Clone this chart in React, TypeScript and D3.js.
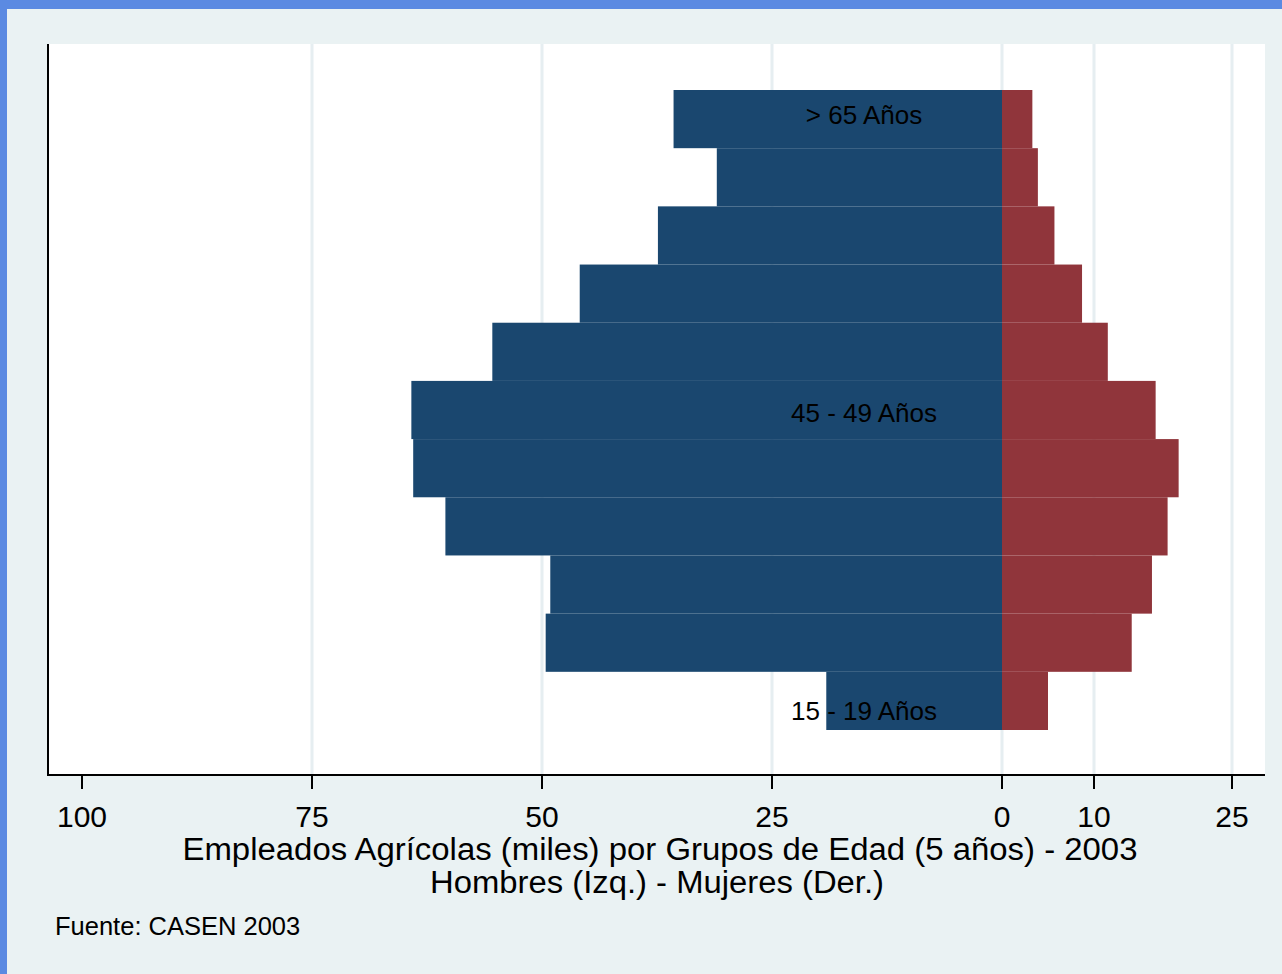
import * as d3 from "d3";

// age groups, top to bottom
const groups = [
  "> 65",
  "60 - 64",
  "55 - 59",
  "50 - 54",
  "45 - 49",
  "40 - 44",
  "35 - 39",
  "30 - 34",
  "25 - 29",
  "20 - 24",
  "15 - 19",
];

// thousands of workers
const hombres = [35.7, 31.0, 37.4, 45.9, 55.4, 64.2, 64.0, 60.5, 49.1, 49.6, 19.1];
const mujeres = [3.3, 3.9, 5.7, 8.7, 11.5, 16.7, 19.2, 18.0, 16.3, 14.1, 5.0];

// signed tick values (men negative)
const ticks = [-100, -75, -50, -25, 0, 10, 25];
const gridValues = [-75, -50, -25, 0, 10, 25];

// in-plot text labels: text and age position on the vertical axis
const labelTexts = ["> 65 Años", "45 - 49 Años", "15 - 19 Años"];
const labelAges = [67.9, 42.3, 16.7];
const labelValue = -15;

const titleLines = [
  "Empleados Agrícolas (miles) por Grupos de Edad (5 años) - 2003",
  "Hombres (Izq.) - Mujeres (Der.)",
];
const note = "Fuente: CASEN 2003";

const W = 1282;
const H = 974;
const plot = { left: 48, right: 1265, top: 44, bottom: 775 };

const NAVY = "#1a476f";
const MAROON = "#90353b";
const FONT = "'Liberation Sans', Arial, Helvetica, sans-serif";

export default function App() {
  const x = d3.scaleLinear().domain([-100, 25]).range([82, 1232]);
  const y = d3.scaleBand<string>().domain(groups).range([90, 730]).padding(0);
  const ageY = d3.scaleLinear().domain([15, 70]).range([730, 90]);

  return (
    <div style={{ position: "absolute", left: 0, top: 0 }}>
      <svg width={W} height={H} style={{ display: "block" }} fontFamily={FONT}>
        <rect width={W} height={H} fill="#eaf2f3" />
        <rect x={0} y={0} width={W} height={9} fill="#5b8ae2" />
        <rect x={0} y={0} width={7} height={H} fill="#5b8ae2" />

        <rect
          x={plot.left}
          y={plot.top}
          width={plot.right - plot.left}
          height={plot.bottom - plot.top}
          fill="#ffffff"
        />

        {gridValues.map((v) => (
          <line
            key={`g${v}`}
            x1={x(v)}
            x2={x(v)}
            y1={plot.top}
            y2={plot.bottom}
            stroke="#e6eef1"
            strokeWidth={3}
          />
        ))}

        {groups.map((g, i) => (
          <g key={g}>
            <rect
              x={x(-hombres[i])}
              y={y(g)}
              width={x(0) - x(-hombres[i])}
              height={y.bandwidth()}
              fill={NAVY}
            />
            <rect
              x={x(0)}
              y={y(g)}
              width={x(mujeres[i]) - x(0)}
              height={y.bandwidth()}
              fill={MAROON}
            />
          </g>
        ))}

        {labelTexts.map((t, i) => (
          <text
            key={t}
            x={x(labelValue)}
            y={ageY(labelAges[i])}
            dy="0.36em"
            textAnchor="middle"
            fontSize={26}
            fill="#000"
          >
            {t}
          </text>
        ))}

        {/* axes */}
        <line
          x1={plot.left}
          x2={plot.left}
          y1={plot.top}
          y2={plot.bottom}
          stroke="#000"
          strokeWidth={2}
        />
        <line
          x1={plot.left - 1}
          x2={plot.right}
          y1={plot.bottom}
          y2={plot.bottom}
          stroke="#000"
          strokeWidth={2}
        />
        {ticks.map((v) => (
          <g key={`t${v}`}>
            <line
              x1={x(v)}
              x2={x(v)}
              y1={plot.bottom}
              y2={plot.bottom + 14}
              stroke="#000"
              strokeWidth={2}
            />
            <text
              x={x(v)}
              y={827}
              textAnchor="middle"
              fontSize={30}
              fill="#000"
            >
              {Math.abs(v)}
            </text>
          </g>
        ))}

        <text
          x={660}
          y={860}
          textAnchor="middle"
          fontSize={31}
          textLength={955}
          lengthAdjust="spacingAndGlyphs"
          fill="#000"
        >
          {titleLines[0]}
        </text>
        <text
          x={657}
          y={893}
          textAnchor="middle"
          fontSize={31}
          textLength={454}
          lengthAdjust="spacingAndGlyphs"
          fill="#000"
        >
          {titleLines[1]}
        </text>

        <text x={55} y={935} fontSize={25.5} fill="#000">
          {note}
        </text>
      </svg>
    </div>
  );
}
